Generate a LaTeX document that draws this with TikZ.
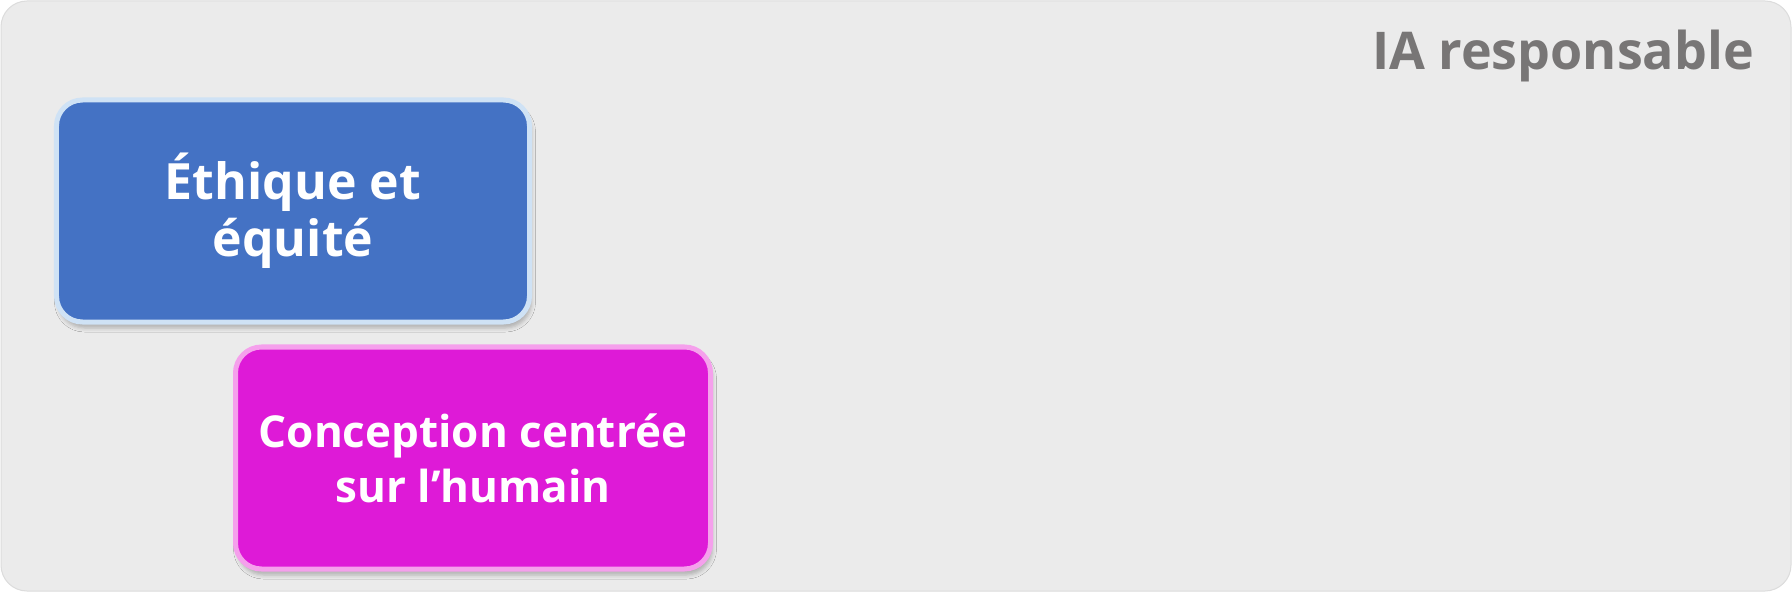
\documentclass[tikz,border=0pt]{standalone}
\usepackage{fontspec}
\setmainfont{Open Sans}
\usetikzlibrary{shadows.blur}
\definecolor{bgcol}{HTML}{EBEBEB}
\definecolor{bgline}{HTML}{DCDCDC}
\definecolor{blueFill}{HTML}{4472C4}
\definecolor{blueEdge}{HTML}{CFE2F5}
\definecolor{magFill}{HTML}{DE1AD7}
\definecolor{magEdge}{HTML}{F5A0EC}
\definecolor{titleGray}{HTML}{787676}
\tikzset{
  card/.style={rounded corners=26bp, line width=5bp, align=center, text=white,
    inner sep=0pt,
    blur shadow={shadow xshift=2bp, shadow yshift=-6bp, shadow blur radius=4bp, shadow opacity=25}},
  bluecard/.style={card, fill=blueFill, draw=blueEdge, font=\fontsize{50bp}{57bp}\selectfont\bfseries},
  magcard/.style={card, fill=magFill, draw=magEdge, font=\fontsize{44bp}{55bp}\selectfont\bfseries},
}
\begin{document}
\begin{tikzpicture}[x=1bp,y=-1bp]
\useasboundingbox (0,0) rectangle (1792,592);
\fill[white] (0,0) rectangle (1792,592);
\draw[bgline, fill=bgcol, line width=1bp, rounded corners=26bp] (1,1) rectangle (1791,591);
\node[bluecard, minimum width=473bp, minimum height=222bp] (eth) at (293,211) {Éthique et\\équité};
\node[magcard, minimum width=475bp, minimum height=222bp] (hum) at (473,458) {Conception centrée\\sur l’humain};
\node[anchor=base east, text=titleGray, font=\fontsize{52bp}{60bp}\selectfont\bfseries, inner sep=0pt] (title) at (1754,70) {IA responsable};
\end{tikzpicture}
\end{document}
